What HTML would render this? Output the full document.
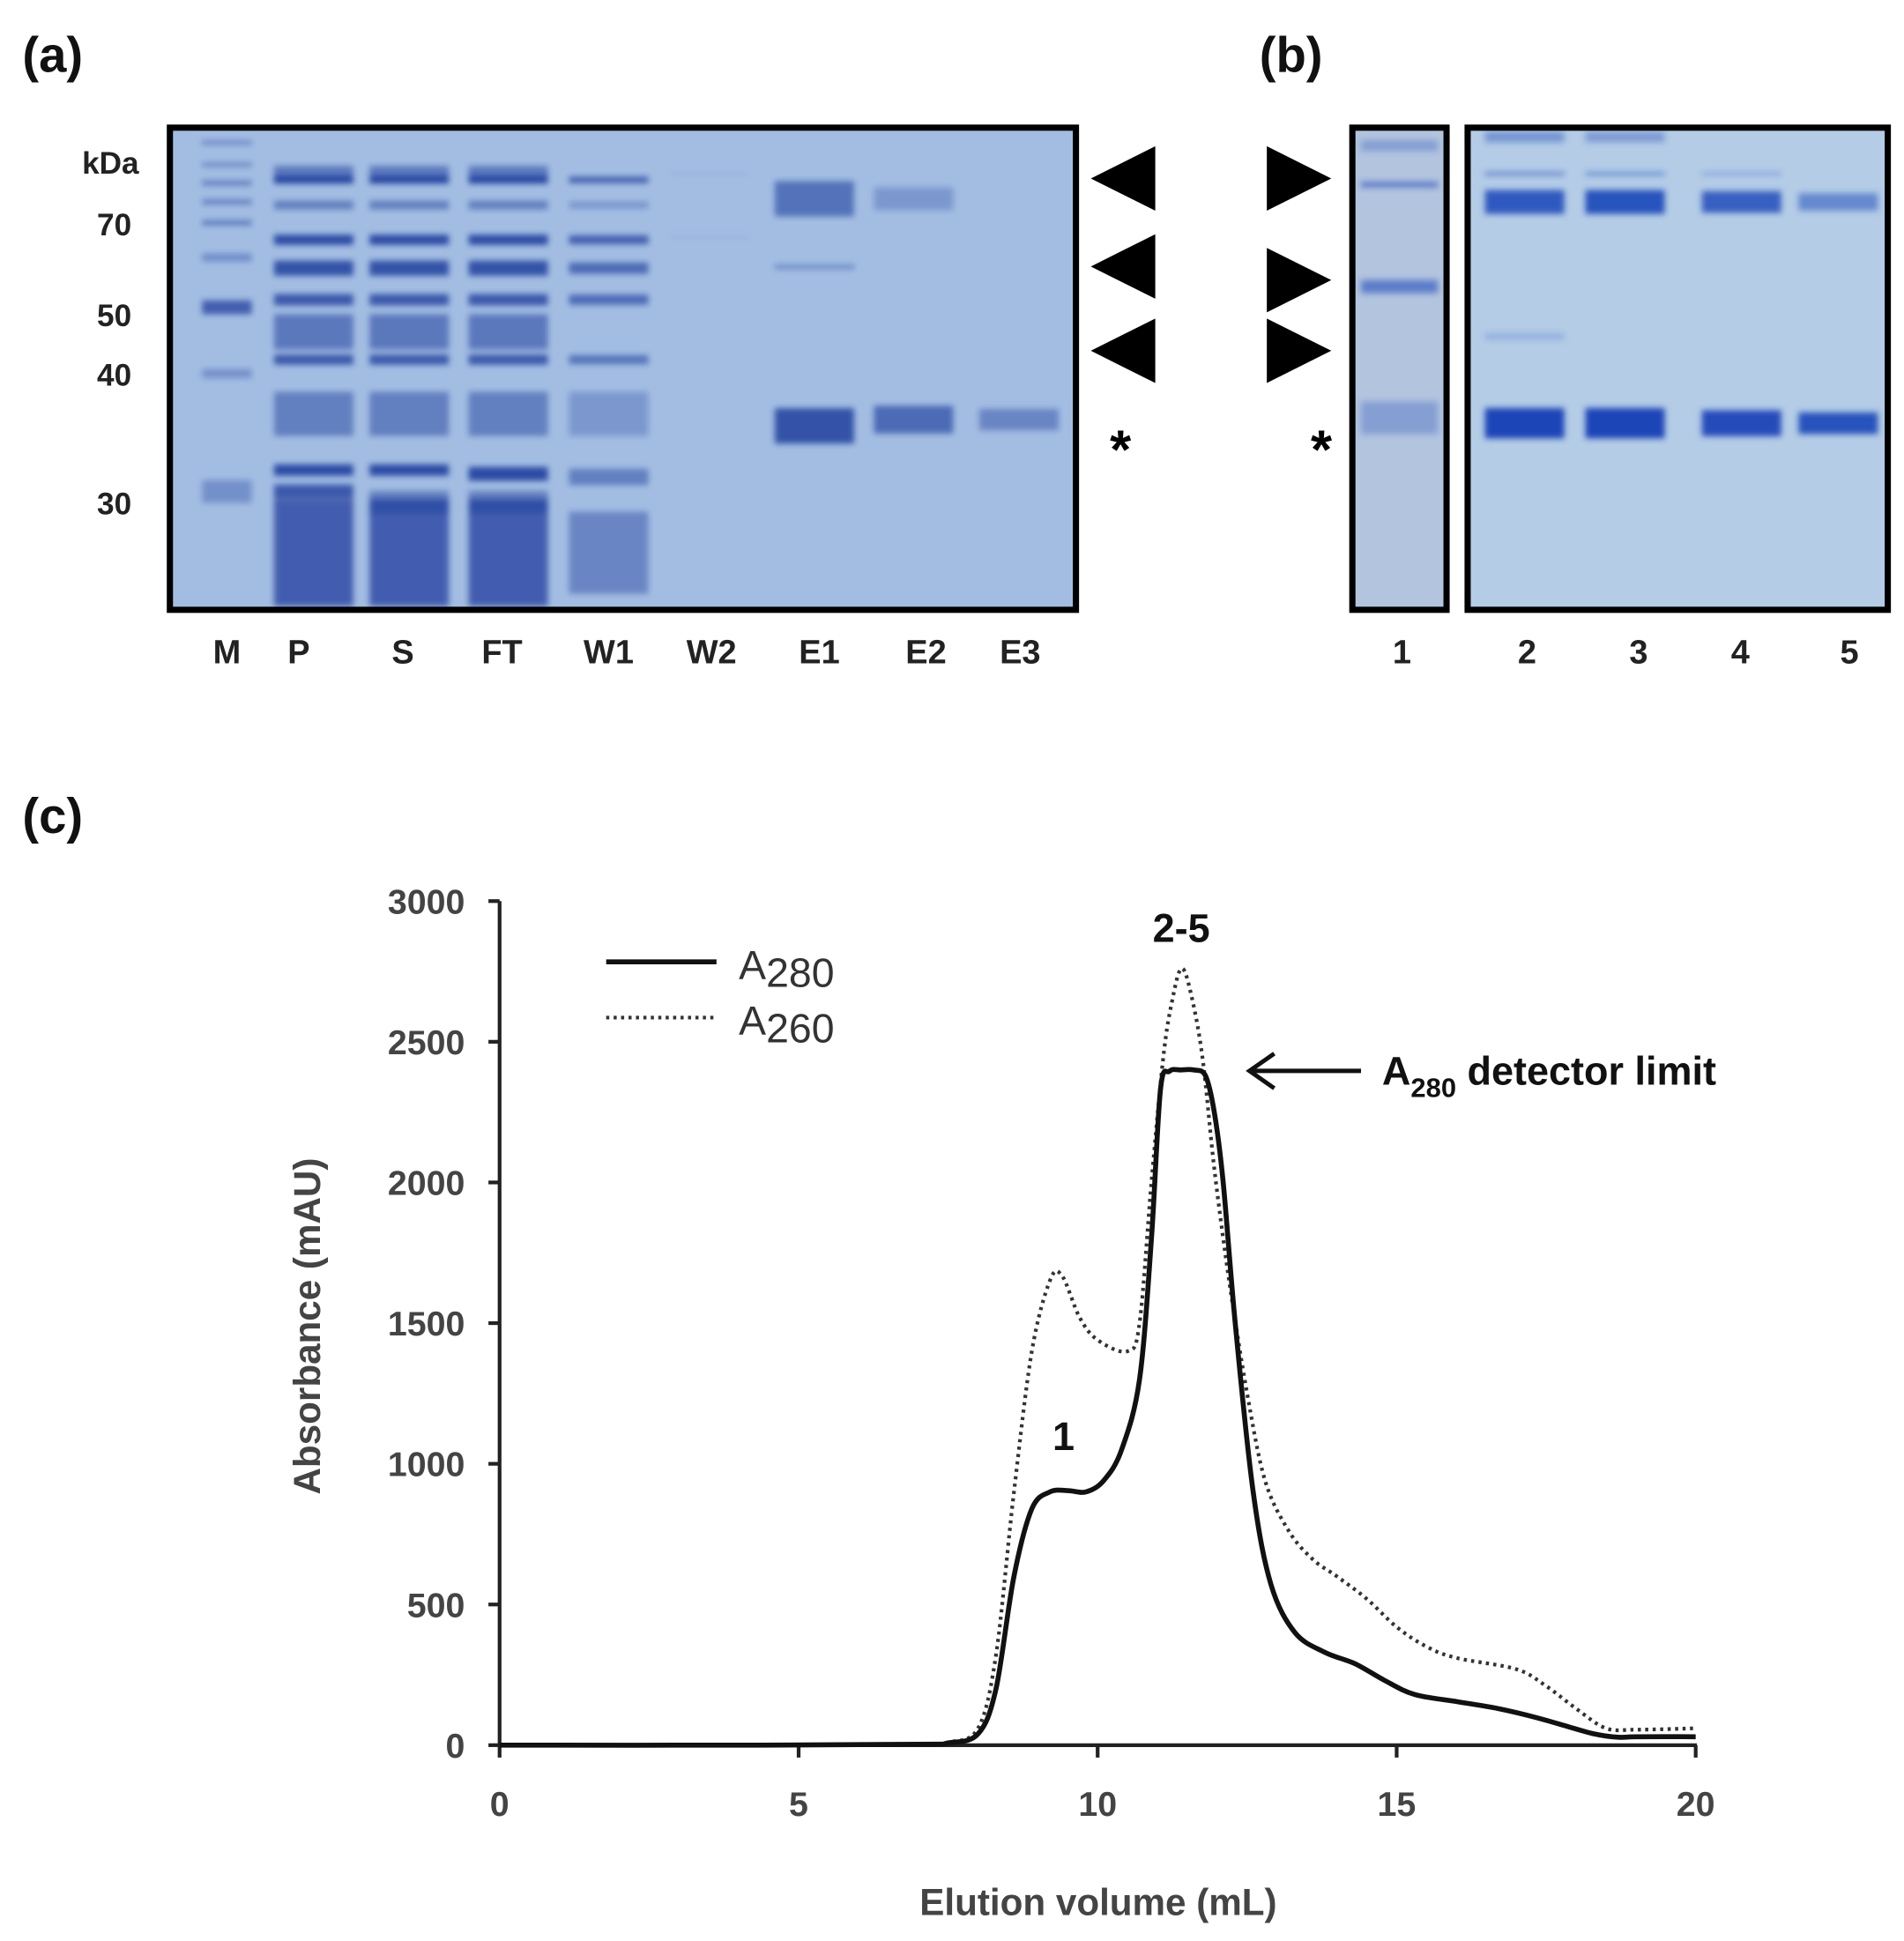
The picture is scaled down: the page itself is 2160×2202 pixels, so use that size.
<!DOCTYPE html>
<html><head><meta charset="utf-8"><style>
html,body{margin:0;padding:0;background:#fff;}
svg{display:block;font-family:"Liberation Sans",Arial,sans-serif;}
</style></head><body>
<svg id="fig" width="2160" height="2202" viewBox="0 0 1536 1566" xmlns="http://www.w3.org/2000/svg">
<defs>
<filter id="blur" x="-20%" y="-50%" width="140%" height="200%"><feGaussianBlur stdDeviation="2.5"/></filter>
</defs>
<g font-weight="bold" fill="#111">
<text x="18" y="58" font-size="40">(a)</text>
<text x="1016" y="58" font-size="40">(b)</text>
<text x="18" y="672" font-size="40">(c)</text>
</g>
<g id="gelA">
<rect x="137" y="103" width="731" height="389" fill="#a3bde2"/>
<g id="bandsA" filter="url(#blur)"></g>
<rect x="137" y="103" width="731" height="389" fill="none" stroke="#000" stroke-width="5"/>
</g>
<g font-weight="bold" font-size="25" fill="#222" text-anchor="end">
<text x="112" y="140">kDa</text>
<text x="106" y="190">70</text>
<text x="106" y="263">50</text>
<text x="106" y="311">40</text>
<text x="106" y="415">30</text>
</g>
<g font-weight="bold" font-size="27" fill="#222" text-anchor="middle">
<text x="183" y="535">M</text>
<text x="241" y="535">P</text>
<text x="325" y="535">S</text>
<text x="405" y="535">FT</text>
<text x="491" y="535">W1</text>
<text x="574" y="535">W2</text>
<text x="661" y="535">E1</text>
<text x="747" y="535">E2</text>
<text x="823" y="535">E3</text>
</g>
<g fill="#000">
<polygon points="932,118 932,170 880,144"/>
<polygon points="932,189 932,241 880,215"/>
<polygon points="932,257 932,309 880,283"/>
<polygon points="1022,118 1022,170 1074,144"/>
<polygon points="1022,200 1022,252 1074,226"/>
<polygon points="1022,257 1022,309 1074,283"/>
</g>
<text x="904" y="378" font-size="44" font-weight="bold" text-anchor="middle">*</text>
<text x="1066" y="378" font-size="44" font-weight="bold" text-anchor="middle">*</text>
<g>
<rect x="1091" y="103" width="76" height="389" fill="#b2c4de"/>
<rect x="1184" y="103" width="339" height="389" fill="#b4cce6"/>
<g id="bandsB" filter="url(#blur)"></g>
<rect x="1091" y="103" width="76" height="389" fill="none" stroke="#000" stroke-width="5"/>
<rect x="1184" y="103" width="339" height="389" fill="none" stroke="#000" stroke-width="5"/>
</g>
<g font-weight="bold" font-size="27" fill="#222" text-anchor="middle">
<text x="1131" y="535">1</text>
<text x="1232" y="535">2</text>
<text x="1322" y="535">3</text>
<text x="1404" y="535">4</text>
<text x="1492" y="535">5</text>
</g>
<g id="chart"></g>
</svg>
<script>
var NS='http://www.w3.org/2000/svg';
function mk(tag,attrs,parent){var e=document.createElementNS(NS,tag);for(var k in attrs)e.setAttribute(k,attrs[k]);parent.appendChild(e);return e;}
var laneXA=[183,253,330,410,491,572,657,737,822];
var bandsA=[
[[130,.5,6],[165,.5,6],[194,.5,8],[224,.5,8],[257,.55,8],[312,.4,12],[391,.75,22],[496,.35,14],[683,.35,36]],
[[180,.55,26],[189,.9,12],[229,.5,14],[284,.9,16],[329,.85,24],[379,.8,18],[430,.55,56],[474,.8,16],[560,.5,70],[649,.9,18],[683,.8,22],[780,.75,170]],
[[180,.55,26],[189,.9,12],[229,.5,14],[284,.9,16],[329,.85,24],[379,.8,18],[430,.55,56],[474,.8,16],[560,.5,70],[649,.9,18],[700,.5,36],[780,.75,170]],
[[180,.55,26],[189,.9,12],[229,.5,14],[284,.9,16],[329,.85,24],[379,.8,18],[430,.55,56],[474,.8,16],[560,.5,70],[655,.9,22],[700,.5,36],[780,.75,170]],
[[189,.75,10],[229,.35,10],[284,.75,14],[329,.65,18],[379,.65,16],[474,.6,14],[560,.3,70],[660,.5,26],[780,.45,130]],
[[180,.06,6],[280,.06,6]],
[[219,.6,56],[327,.5,6],[579,.85,56]],
[[219,.3,36],[569,.65,44]],
[[569,.45,34]]];
var gA=document.getElementById('bandsA');
bandsA.forEach(function(l,i){var w=i==0?40:64;l.forEach(function(b){
 var y=(b[0]-99.6)*0.509+99.6;
 var h=Math.max(3,b[2]*0.509);
 var r=mk('rect',{x:laneXA[i]-w/2,y:y-h/2,width:w,height:h,fill:'#1f3f9e','fill-opacity':b[1]},gA);
 
 
});});
var laneXB=[1129,1230,1311,1405,1483];
var bandsB=[
[[120,.3,10],[156,.6,5],[250,.55,12],[371,.3,30]],
[[112,.4,10],[146,.6,3],[172,.85,22],[296,.2,6],[376,1,28]],
[[112,.35,10],[146,.5,3],[172,.9,22],[376,1,28]],
[[146,.3,3],[172,.8,20],[376,.95,24]],
[[172,.5,16],[376,.9,20]]];
var gB=document.getElementById('bandsB');
bandsB.forEach(function(l,i){var w=i==0?62:64;l.forEach(function(b){
 var y=(b[0]-99.6)*0.875+99.6;
 var h=b[2]*0.875;
 var r=mk('rect',{x:laneXB[i]-w/2,y:y-h/2,width:w,height:h,fill:'#1a45b8','fill-opacity':b[1]},gB);
 
 
});});
</script>
<script>
var xTicks=[0,5,10,15,20];
var yTicks=[0,500,1000,1500,2000,2500,3000];
var a280X=[0,4,7,7.5,8,8.3,8.6,8.9,9.2,9.5,9.8,10.1,10.4,10.7,10.9,11.05,11.2,11.4,11.6,11.8,11.95,12.1,12.3,12.6,12.9,13.3,13.8,14.3,14.8,15.3,16,16.7,17.3,17.8,18.3,18.7,19,20];
var a280Y=[0,0,3,8,40,200,600,840,900,905,900,940,1050,1300,1800,2330,2395,2400,2400,2380,2250,2000,1500,900,570,400,330,290,230,180,155,130,100,70,40,28,30,30];
var a260X=[0,4,7,7.5,8,8.3,8.6,8.9,9.2,9.4,9.7,10,10.5,10.7,10.9,11.1,11.25,11.4,11.55,11.75,11.95,12.2,12.5,12.8,13.2,13.6,14,14.5,15,15.5,16,17,17.5,18,18.5,19,20];
var a260Y=[0,0,3,10,60,320,900,1400,1650,1670,1520,1440,1400,1500,2000,2450,2650,2760,2680,2450,2050,1650,1250,940,760,660,600,520,420,350,310,270,210,130,60,55,60];
var c=document.getElementById('chart');
var X0=403,X1=1368,Y0=1408,Y1=727;
function sx(v){return X0+(v-0)/(20-0)*(X1-X0);}
function sy(v){return Y0-(v-0)/(3000-0)*(Y0-Y1);}
var e;
e=mk('line',{x1:X0,y1:Y1,x2:X0,y2:Y0+1,stroke:'#222','stroke-width':3},c);


e=mk('line',{x1:X0-1,y1:Y0,x2:X1+1,y2:Y0,stroke:'#222','stroke-width':3},c);


yTicks.forEach(function(t){
 e=mk('line',{x1:X0-9,y1:sy(t),x2:X0,y2:sy(t),stroke:'#222','stroke-width':3},c);
 
 
 e=mk('text',{x:X0-28,y:sy(t)+10,'font-size':28,'font-weight':'bold',fill:'#444','text-anchor':'end'},c);
 e.textContent=t;
 
 
});
xTicks.forEach(function(t){
 e=mk('line',{x1:sx(t),y1:Y0,x2:sx(t),y2:Y0+10,stroke:'#222','stroke-width':3},c);
 
 
 e=mk('text',{x:sx(t),y:Y0+57,'font-size':28,'font-weight':'bold',fill:'#444','text-anchor':'middle'},c);
 e.textContent=t;
 
 
});
e=mk('text',{x:886,y:1545,'font-size':30,'font-weight':'bold',fill:'#444','text-anchor':'middle'},c);
e.textContent='Elution volume (mL)';


e=mk('text',{x:0,y:0,'font-size':30,'font-weight':'bold',fill:'#444','text-anchor':'middle',transform:'translate(258,1070) rotate(-90)'},c);
e.textContent='Absorbance (mAU)';


function smooth(xs,ys){
 var p=xs.map(function(v,i){return [sx(v),sy(ys[i])];});
 var d='M'+p[0][0].toFixed(1)+','+p[0][1].toFixed(1);
 for(var i=0;i<p.length-1;i++){
  var p0=p[Math.max(0,i-1)],p1=p[i],p2=p[i+1],p3=p[Math.min(p.length-1,i+2)];
  var c1=[p1[0]+(p2[0]-p0[0])/6,p1[1]+(p2[1]-p0[1])/6];
  var c2=[p2[0]-(p3[0]-p1[0])/6,p2[1]-(p3[1]-p1[1])/6];
  d+=' C'+c1[0].toFixed(1)+','+c1[1].toFixed(1)+' '+c2[0].toFixed(1)+','+c2[1].toFixed(1)+' '+p2[0].toFixed(1)+','+p2[1].toFixed(1);
 }
 return d;
}
e=mk('path',{d:smooth(a260X,a260Y),fill:'none',stroke:'#333','stroke-width':3,'stroke-dasharray':'2.5,3.5','stroke-linejoin':'round'},c);


e=mk('path',{d:smooth(a280X,a280Y),fill:'none',stroke:'#111','stroke-width':4,'stroke-linejoin':'round'},c);


e=mk('line',{x1:489,y1:776,x2:578,y2:776,stroke:'#111','stroke-width':4},c);


e=mk('line',{x1:489,y1:821,x2:578,y2:821,stroke:'#333','stroke-width':3,'stroke-dasharray':'2.5,3.5'},c);


e=mk('text',{x:596,y:790,'font-size':33,fill:'#333'},c);
e.innerHTML='A<tspan dy="6" font-size="33">280</tspan>';


e=mk('text',{x:596,y:835,'font-size':33,fill:'#333'},c);
e.innerHTML='A<tspan dy="6" font-size="33">260</tspan>';


e=mk('text',{x:953,y:760,'font-size':32,'font-weight':'bold',fill:'#111','text-anchor':'middle'},c);
e.textContent='2-5';


e=mk('text',{x:858,y:1170,'font-size':32,'font-weight':'bold',fill:'#111','text-anchor':'middle'},c);
e.textContent='1';


e=mk('path',{d:'M1098,864 L1010,864 M1028,850 L1008,864 L1028,878',fill:'none',stroke:'#111','stroke-width':3.5},c);


e=mk('text',{x:1115,y:875,'font-size':32,'font-weight':'bold',fill:'#111'},c);
e.innerHTML='A<tspan dy="10" font-size="22">280</tspan><tspan dy="-10"> detector limit</tspan>';


</script>
</body></html>
